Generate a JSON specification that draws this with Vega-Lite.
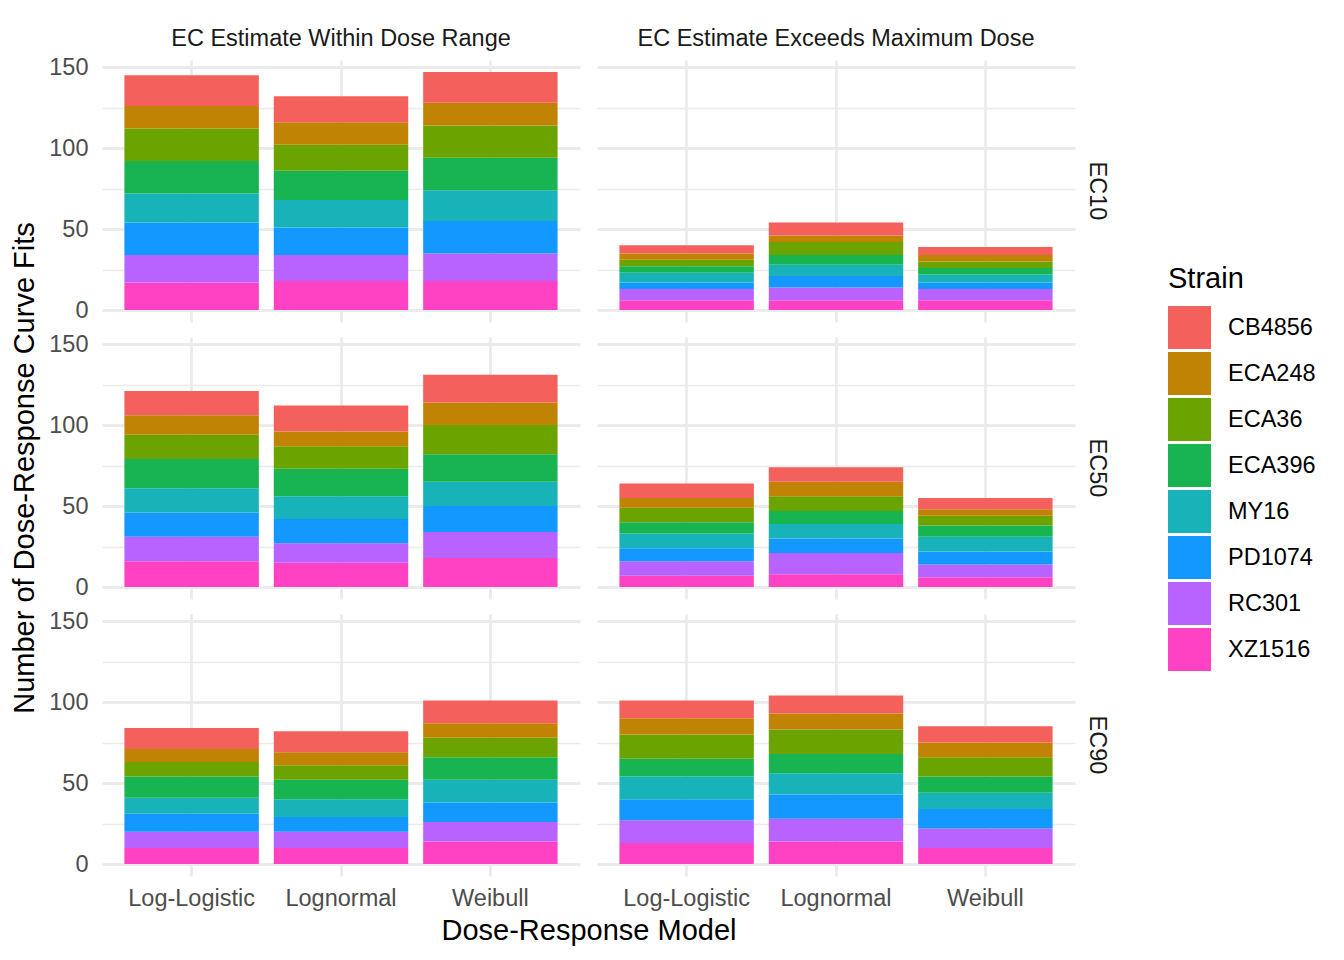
{
  "$schema": "https://vega.github.io/schema/vega-lite/v6.json",
  "background": "white",
  "padding": {"left": 10, "top": 26, "right": 5, "bottom": 5},
  "data": {"values": [
    {"ec":"EC10","range":"EC Estimate Within Dose Range","model":"Log-Logistic","strain":"XZ1516","n":17},
    {"ec":"EC10","range":"EC Estimate Within Dose Range","model":"Log-Logistic","strain":"RC301","n":17},
    {"ec":"EC10","range":"EC Estimate Within Dose Range","model":"Log-Logistic","strain":"PD1074","n":20},
    {"ec":"EC10","range":"EC Estimate Within Dose Range","model":"Log-Logistic","strain":"MY16","n":18},
    {"ec":"EC10","range":"EC Estimate Within Dose Range","model":"Log-Logistic","strain":"ECA396","n":20},
    {"ec":"EC10","range":"EC Estimate Within Dose Range","model":"Log-Logistic","strain":"ECA36","n":20},
    {"ec":"EC10","range":"EC Estimate Within Dose Range","model":"Log-Logistic","strain":"ECA248","n":14},
    {"ec":"EC10","range":"EC Estimate Within Dose Range","model":"Log-Logistic","strain":"CB4856","n":19},
    {"ec":"EC10","range":"EC Estimate Within Dose Range","model":"Lognormal","strain":"XZ1516","n":18},
    {"ec":"EC10","range":"EC Estimate Within Dose Range","model":"Lognormal","strain":"RC301","n":16},
    {"ec":"EC10","range":"EC Estimate Within Dose Range","model":"Lognormal","strain":"PD1074","n":17},
    {"ec":"EC10","range":"EC Estimate Within Dose Range","model":"Lognormal","strain":"MY16","n":17},
    {"ec":"EC10","range":"EC Estimate Within Dose Range","model":"Lognormal","strain":"ECA396","n":18},
    {"ec":"EC10","range":"EC Estimate Within Dose Range","model":"Lognormal","strain":"ECA36","n":16},
    {"ec":"EC10","range":"EC Estimate Within Dose Range","model":"Lognormal","strain":"ECA248","n":14},
    {"ec":"EC10","range":"EC Estimate Within Dose Range","model":"Lognormal","strain":"CB4856","n":16},
    {"ec":"EC10","range":"EC Estimate Within Dose Range","model":"Weibull","strain":"XZ1516","n":18},
    {"ec":"EC10","range":"EC Estimate Within Dose Range","model":"Weibull","strain":"RC301","n":17},
    {"ec":"EC10","range":"EC Estimate Within Dose Range","model":"Weibull","strain":"PD1074","n":20},
    {"ec":"EC10","range":"EC Estimate Within Dose Range","model":"Weibull","strain":"MY16","n":19},
    {"ec":"EC10","range":"EC Estimate Within Dose Range","model":"Weibull","strain":"ECA396","n":20},
    {"ec":"EC10","range":"EC Estimate Within Dose Range","model":"Weibull","strain":"ECA36","n":20},
    {"ec":"EC10","range":"EC Estimate Within Dose Range","model":"Weibull","strain":"ECA248","n":14},
    {"ec":"EC10","range":"EC Estimate Within Dose Range","model":"Weibull","strain":"CB4856","n":19},
    {"ec":"EC10","range":"EC Estimate Exceeds Maximum Dose","model":"Log-Logistic","strain":"XZ1516","n":6},
    {"ec":"EC10","range":"EC Estimate Exceeds Maximum Dose","model":"Log-Logistic","strain":"RC301","n":7},
    {"ec":"EC10","range":"EC Estimate Exceeds Maximum Dose","model":"Log-Logistic","strain":"PD1074","n":4},
    {"ec":"EC10","range":"EC Estimate Exceeds Maximum Dose","model":"Log-Logistic","strain":"MY16","n":6},
    {"ec":"EC10","range":"EC Estimate Exceeds Maximum Dose","model":"Log-Logistic","strain":"ECA396","n":4},
    {"ec":"EC10","range":"EC Estimate Exceeds Maximum Dose","model":"Log-Logistic","strain":"ECA36","n":4},
    {"ec":"EC10","range":"EC Estimate Exceeds Maximum Dose","model":"Log-Logistic","strain":"ECA248","n":4},
    {"ec":"EC10","range":"EC Estimate Exceeds Maximum Dose","model":"Log-Logistic","strain":"CB4856","n":5},
    {"ec":"EC10","range":"EC Estimate Exceeds Maximum Dose","model":"Lognormal","strain":"XZ1516","n":6},
    {"ec":"EC10","range":"EC Estimate Exceeds Maximum Dose","model":"Lognormal","strain":"RC301","n":8},
    {"ec":"EC10","range":"EC Estimate Exceeds Maximum Dose","model":"Lognormal","strain":"PD1074","n":7},
    {"ec":"EC10","range":"EC Estimate Exceeds Maximum Dose","model":"Lognormal","strain":"MY16","n":7},
    {"ec":"EC10","range":"EC Estimate Exceeds Maximum Dose","model":"Lognormal","strain":"ECA396","n":6},
    {"ec":"EC10","range":"EC Estimate Exceeds Maximum Dose","model":"Lognormal","strain":"ECA36","n":8},
    {"ec":"EC10","range":"EC Estimate Exceeds Maximum Dose","model":"Lognormal","strain":"ECA248","n":4},
    {"ec":"EC10","range":"EC Estimate Exceeds Maximum Dose","model":"Lognormal","strain":"CB4856","n":8},
    {"ec":"EC10","range":"EC Estimate Exceeds Maximum Dose","model":"Weibull","strain":"XZ1516","n":6},
    {"ec":"EC10","range":"EC Estimate Exceeds Maximum Dose","model":"Weibull","strain":"RC301","n":7},
    {"ec":"EC10","range":"EC Estimate Exceeds Maximum Dose","model":"Weibull","strain":"PD1074","n":4},
    {"ec":"EC10","range":"EC Estimate Exceeds Maximum Dose","model":"Weibull","strain":"MY16","n":5},
    {"ec":"EC10","range":"EC Estimate Exceeds Maximum Dose","model":"Weibull","strain":"ECA396","n":4},
    {"ec":"EC10","range":"EC Estimate Exceeds Maximum Dose","model":"Weibull","strain":"ECA36","n":4},
    {"ec":"EC10","range":"EC Estimate Exceeds Maximum Dose","model":"Weibull","strain":"ECA248","n":4},
    {"ec":"EC10","range":"EC Estimate Exceeds Maximum Dose","model":"Weibull","strain":"CB4856","n":5},
    {"ec":"EC50","range":"EC Estimate Within Dose Range","model":"Log-Logistic","strain":"XZ1516","n":16},
    {"ec":"EC50","range":"EC Estimate Within Dose Range","model":"Log-Logistic","strain":"RC301","n":15},
    {"ec":"EC50","range":"EC Estimate Within Dose Range","model":"Log-Logistic","strain":"PD1074","n":15},
    {"ec":"EC50","range":"EC Estimate Within Dose Range","model":"Log-Logistic","strain":"MY16","n":15},
    {"ec":"EC50","range":"EC Estimate Within Dose Range","model":"Log-Logistic","strain":"ECA396","n":18},
    {"ec":"EC50","range":"EC Estimate Within Dose Range","model":"Log-Logistic","strain":"ECA36","n":15},
    {"ec":"EC50","range":"EC Estimate Within Dose Range","model":"Log-Logistic","strain":"ECA248","n":12},
    {"ec":"EC50","range":"EC Estimate Within Dose Range","model":"Log-Logistic","strain":"CB4856","n":15},
    {"ec":"EC50","range":"EC Estimate Within Dose Range","model":"Lognormal","strain":"XZ1516","n":15},
    {"ec":"EC50","range":"EC Estimate Within Dose Range","model":"Lognormal","strain":"RC301","n":12},
    {"ec":"EC50","range":"EC Estimate Within Dose Range","model":"Lognormal","strain":"PD1074","n":15},
    {"ec":"EC50","range":"EC Estimate Within Dose Range","model":"Lognormal","strain":"MY16","n":14},
    {"ec":"EC50","range":"EC Estimate Within Dose Range","model":"Lognormal","strain":"ECA396","n":17},
    {"ec":"EC50","range":"EC Estimate Within Dose Range","model":"Lognormal","strain":"ECA36","n":14},
    {"ec":"EC50","range":"EC Estimate Within Dose Range","model":"Lognormal","strain":"ECA248","n":9},
    {"ec":"EC50","range":"EC Estimate Within Dose Range","model":"Lognormal","strain":"CB4856","n":16},
    {"ec":"EC50","range":"EC Estimate Within Dose Range","model":"Weibull","strain":"XZ1516","n":18},
    {"ec":"EC50","range":"EC Estimate Within Dose Range","model":"Weibull","strain":"RC301","n":16},
    {"ec":"EC50","range":"EC Estimate Within Dose Range","model":"Weibull","strain":"PD1074","n":16},
    {"ec":"EC50","range":"EC Estimate Within Dose Range","model":"Weibull","strain":"MY16","n":15},
    {"ec":"EC50","range":"EC Estimate Within Dose Range","model":"Weibull","strain":"ECA396","n":17},
    {"ec":"EC50","range":"EC Estimate Within Dose Range","model":"Weibull","strain":"ECA36","n":18},
    {"ec":"EC50","range":"EC Estimate Within Dose Range","model":"Weibull","strain":"ECA248","n":14},
    {"ec":"EC50","range":"EC Estimate Within Dose Range","model":"Weibull","strain":"CB4856","n":17},
    {"ec":"EC50","range":"EC Estimate Exceeds Maximum Dose","model":"Log-Logistic","strain":"XZ1516","n":7},
    {"ec":"EC50","range":"EC Estimate Exceeds Maximum Dose","model":"Log-Logistic","strain":"RC301","n":9},
    {"ec":"EC50","range":"EC Estimate Exceeds Maximum Dose","model":"Log-Logistic","strain":"PD1074","n":8},
    {"ec":"EC50","range":"EC Estimate Exceeds Maximum Dose","model":"Log-Logistic","strain":"MY16","n":9},
    {"ec":"EC50","range":"EC Estimate Exceeds Maximum Dose","model":"Log-Logistic","strain":"ECA396","n":7},
    {"ec":"EC50","range":"EC Estimate Exceeds Maximum Dose","model":"Log-Logistic","strain":"ECA36","n":9},
    {"ec":"EC50","range":"EC Estimate Exceeds Maximum Dose","model":"Log-Logistic","strain":"ECA248","n":6},
    {"ec":"EC50","range":"EC Estimate Exceeds Maximum Dose","model":"Log-Logistic","strain":"CB4856","n":9},
    {"ec":"EC50","range":"EC Estimate Exceeds Maximum Dose","model":"Lognormal","strain":"XZ1516","n":8},
    {"ec":"EC50","range":"EC Estimate Exceeds Maximum Dose","model":"Lognormal","strain":"RC301","n":13},
    {"ec":"EC50","range":"EC Estimate Exceeds Maximum Dose","model":"Lognormal","strain":"PD1074","n":9},
    {"ec":"EC50","range":"EC Estimate Exceeds Maximum Dose","model":"Lognormal","strain":"MY16","n":9},
    {"ec":"EC50","range":"EC Estimate Exceeds Maximum Dose","model":"Lognormal","strain":"ECA396","n":8},
    {"ec":"EC50","range":"EC Estimate Exceeds Maximum Dose","model":"Lognormal","strain":"ECA36","n":9},
    {"ec":"EC50","range":"EC Estimate Exceeds Maximum Dose","model":"Lognormal","strain":"ECA248","n":9},
    {"ec":"EC50","range":"EC Estimate Exceeds Maximum Dose","model":"Lognormal","strain":"CB4856","n":9},
    {"ec":"EC50","range":"EC Estimate Exceeds Maximum Dose","model":"Weibull","strain":"XZ1516","n":6},
    {"ec":"EC50","range":"EC Estimate Exceeds Maximum Dose","model":"Weibull","strain":"RC301","n":8},
    {"ec":"EC50","range":"EC Estimate Exceeds Maximum Dose","model":"Weibull","strain":"PD1074","n":8},
    {"ec":"EC50","range":"EC Estimate Exceeds Maximum Dose","model":"Weibull","strain":"MY16","n":9},
    {"ec":"EC50","range":"EC Estimate Exceeds Maximum Dose","model":"Weibull","strain":"ECA396","n":7},
    {"ec":"EC50","range":"EC Estimate Exceeds Maximum Dose","model":"Weibull","strain":"ECA36","n":6},
    {"ec":"EC50","range":"EC Estimate Exceeds Maximum Dose","model":"Weibull","strain":"ECA248","n":4},
    {"ec":"EC50","range":"EC Estimate Exceeds Maximum Dose","model":"Weibull","strain":"CB4856","n":7},
    {"ec":"EC90","range":"EC Estimate Within Dose Range","model":"Log-Logistic","strain":"XZ1516","n":10},
    {"ec":"EC90","range":"EC Estimate Within Dose Range","model":"Log-Logistic","strain":"RC301","n":10},
    {"ec":"EC90","range":"EC Estimate Within Dose Range","model":"Log-Logistic","strain":"PD1074","n":11},
    {"ec":"EC90","range":"EC Estimate Within Dose Range","model":"Log-Logistic","strain":"MY16","n":10},
    {"ec":"EC90","range":"EC Estimate Within Dose Range","model":"Log-Logistic","strain":"ECA396","n":13},
    {"ec":"EC90","range":"EC Estimate Within Dose Range","model":"Log-Logistic","strain":"ECA36","n":9},
    {"ec":"EC90","range":"EC Estimate Within Dose Range","model":"Log-Logistic","strain":"ECA248","n":8},
    {"ec":"EC90","range":"EC Estimate Within Dose Range","model":"Log-Logistic","strain":"CB4856","n":13},
    {"ec":"EC90","range":"EC Estimate Within Dose Range","model":"Lognormal","strain":"XZ1516","n":10},
    {"ec":"EC90","range":"EC Estimate Within Dose Range","model":"Lognormal","strain":"RC301","n":10},
    {"ec":"EC90","range":"EC Estimate Within Dose Range","model":"Lognormal","strain":"PD1074","n":9},
    {"ec":"EC90","range":"EC Estimate Within Dose Range","model":"Lognormal","strain":"MY16","n":11},
    {"ec":"EC90","range":"EC Estimate Within Dose Range","model":"Lognormal","strain":"ECA396","n":12},
    {"ec":"EC90","range":"EC Estimate Within Dose Range","model":"Lognormal","strain":"ECA36","n":9},
    {"ec":"EC90","range":"EC Estimate Within Dose Range","model":"Lognormal","strain":"ECA248","n":8},
    {"ec":"EC90","range":"EC Estimate Within Dose Range","model":"Lognormal","strain":"CB4856","n":13},
    {"ec":"EC90","range":"EC Estimate Within Dose Range","model":"Weibull","strain":"XZ1516","n":14},
    {"ec":"EC90","range":"EC Estimate Within Dose Range","model":"Weibull","strain":"RC301","n":12},
    {"ec":"EC90","range":"EC Estimate Within Dose Range","model":"Weibull","strain":"PD1074","n":12},
    {"ec":"EC90","range":"EC Estimate Within Dose Range","model":"Weibull","strain":"MY16","n":14},
    {"ec":"EC90","range":"EC Estimate Within Dose Range","model":"Weibull","strain":"ECA396","n":14},
    {"ec":"EC90","range":"EC Estimate Within Dose Range","model":"Weibull","strain":"ECA36","n":12},
    {"ec":"EC90","range":"EC Estimate Within Dose Range","model":"Weibull","strain":"ECA248","n":9},
    {"ec":"EC90","range":"EC Estimate Within Dose Range","model":"Weibull","strain":"CB4856","n":14},
    {"ec":"EC90","range":"EC Estimate Exceeds Maximum Dose","model":"Log-Logistic","strain":"XZ1516","n":13},
    {"ec":"EC90","range":"EC Estimate Exceeds Maximum Dose","model":"Log-Logistic","strain":"RC301","n":14},
    {"ec":"EC90","range":"EC Estimate Exceeds Maximum Dose","model":"Log-Logistic","strain":"PD1074","n":13},
    {"ec":"EC90","range":"EC Estimate Exceeds Maximum Dose","model":"Log-Logistic","strain":"MY16","n":14},
    {"ec":"EC90","range":"EC Estimate Exceeds Maximum Dose","model":"Log-Logistic","strain":"ECA396","n":11},
    {"ec":"EC90","range":"EC Estimate Exceeds Maximum Dose","model":"Log-Logistic","strain":"ECA36","n":15},
    {"ec":"EC90","range":"EC Estimate Exceeds Maximum Dose","model":"Log-Logistic","strain":"ECA248","n":10},
    {"ec":"EC90","range":"EC Estimate Exceeds Maximum Dose","model":"Log-Logistic","strain":"CB4856","n":11},
    {"ec":"EC90","range":"EC Estimate Exceeds Maximum Dose","model":"Lognormal","strain":"XZ1516","n":14},
    {"ec":"EC90","range":"EC Estimate Exceeds Maximum Dose","model":"Lognormal","strain":"RC301","n":14},
    {"ec":"EC90","range":"EC Estimate Exceeds Maximum Dose","model":"Lognormal","strain":"PD1074","n":15},
    {"ec":"EC90","range":"EC Estimate Exceeds Maximum Dose","model":"Lognormal","strain":"MY16","n":13},
    {"ec":"EC90","range":"EC Estimate Exceeds Maximum Dose","model":"Lognormal","strain":"ECA396","n":12},
    {"ec":"EC90","range":"EC Estimate Exceeds Maximum Dose","model":"Lognormal","strain":"ECA36","n":15},
    {"ec":"EC90","range":"EC Estimate Exceeds Maximum Dose","model":"Lognormal","strain":"ECA248","n":10},
    {"ec":"EC90","range":"EC Estimate Exceeds Maximum Dose","model":"Lognormal","strain":"CB4856","n":11},
    {"ec":"EC90","range":"EC Estimate Exceeds Maximum Dose","model":"Weibull","strain":"XZ1516","n":10},
    {"ec":"EC90","range":"EC Estimate Exceeds Maximum Dose","model":"Weibull","strain":"RC301","n":12},
    {"ec":"EC90","range":"EC Estimate Exceeds Maximum Dose","model":"Weibull","strain":"PD1074","n":12},
    {"ec":"EC90","range":"EC Estimate Exceeds Maximum Dose","model":"Weibull","strain":"MY16","n":10},
    {"ec":"EC90","range":"EC Estimate Exceeds Maximum Dose","model":"Weibull","strain":"ECA396","n":10},
    {"ec":"EC90","range":"EC Estimate Exceeds Maximum Dose","model":"Weibull","strain":"ECA36","n":12},
    {"ec":"EC90","range":"EC Estimate Exceeds Maximum Dose","model":"Weibull","strain":"ECA248","n":9},
    {"ec":"EC90","range":"EC Estimate Exceeds Maximum Dose","model":"Weibull","strain":"CB4856","n":10}
  ]},
  "facet": {
    "row": {"field": "ec", "type": "nominal", "sort": ["EC10", "EC50", "EC90"], "title": "Number of Dose-Response Curve Fits",
      "header": {"labelOrient": "right", "labelAngle": 90, "labelFontSize": 23.5, "labelColor": "#1A1A1A", "labelPadding": 10, "labelFont": "Liberation Sans",
        "titleOrient": "left", "titleFontSize": 29, "titleFontWeight": "normal", "titleColor": "#000000", "titleFont": "Liberation Sans", "titlePadding": -2}},
    "column": {"field": "range", "type": "nominal", "sort": ["EC Estimate Within Dose Range", "EC Estimate Exceeds Maximum Dose"], "title": "Dose-Response Model",
      "header": {"labelOrient": "top", "labelFontSize": 23.5, "labelColor": "#1A1A1A", "labelPadding": 10, "labelFont": "Liberation Sans",
        "titleOrient": "bottom", "titleFontSize": 29, "titleFontWeight": "normal", "titleColor": "#000000", "titleFont": "Liberation Sans", "titlePadding": -3}}
  },
  "spacing": {"row": 15, "column": 17},
  "spec": {
    "width": 478,
    "height": 262,
    "mark": {"type": "bar"},
    "encoding": {
      "x": {"field": "model", "type": "nominal", "sort": ["Log-Logistic", "Lognormal", "Weibull"],
        "scale": {"paddingInner": 0.1, "paddingOuter": 0.15},
        "axis": {"title": null, "labelAngle": 0, "bandPosition": 0.5, "grid": true, "gridColor": "#EBEBEB", "gridWidth": 2.8, "ticks": false, "domain": false, "labelFontSize": 23.5, "labelColor": "#4D4D4D", "labelPadding": 10}},
      "y": {"field": "n", "type": "quantitative", "stack": "zero",
        "scale": {"domain": [-7.35, 154.35], "nice": false, "zero": false},
        "axis": {"title": null, "values": [0, 25, 50, 75, 100, 125, 150],
          "labelExpr": "datum.value % 50 === 0 ? datum.label : ''",
          "grid": true, "gridColor": "#EBEBEB",
          "gridWidth": {"condition": {"test": "datum.value % 50 === 0", "value": 2.8}, "value": 1.4},
          "ticks": false, "domain": false, "labelFontSize": 23.5, "labelColor": "#4D4D4D", "labelPadding": 14}},
      "color": {"field": "strain", "type": "nominal",
        "scale": {"domain": ["CB4856", "ECA248", "ECA36", "ECA396", "MY16", "PD1074", "RC301", "XZ1516"],
          "range": ["#F4605C", "#C08304", "#6BA301", "#17B451", "#18B3B8", "#1298FF", "#B862FF", "#FF42C3"]},
        "legend": {"title": "Strain", "orient": "none", "legendX": 1066, "legendY": 205,
          "titleFontSize": 29, "titleFontWeight": "normal", "titleColor": "#000000", "titlePadding": 12,
          "labelFontSize": 23.5, "labelColor": "#000000", "labelOffset": 17,
          "symbolType": "square", "symbolSize": 1849, "symbolStrokeWidth": 0, "symbolOpacity": 1, "rowPadding": 3}},
      "order": {"field": "strain", "sort": "descending"}
    }
  },
  "config": {
    "font": "Liberation Sans",
    "view": {"stroke": null},
    "axis": {"labelFont": "Liberation Sans", "titleFont": "Liberation Sans"},
    "legend": {"labelFont": "Liberation Sans", "titleFont": "Liberation Sans"}
  }
}
